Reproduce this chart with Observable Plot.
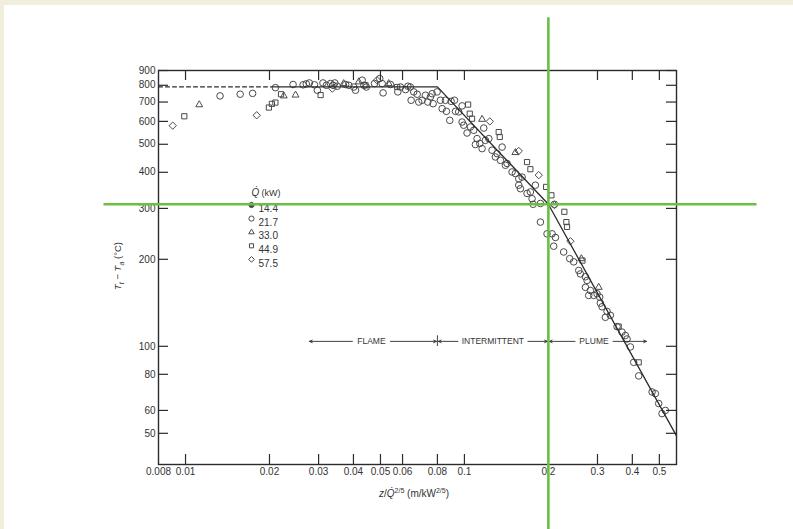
<!DOCTYPE html>
<html><head><meta charset="utf-8">
<script src="https://cdn.jsdelivr.net/npm/d3@7"></script>
<script src="https://cdn.jsdelivr.net/npm/@observablehq/plot@0.6"></script>
<style>
html,body{margin:0;padding:0;background:#fff;}
#wrap{position:relative;width:793px;height:529px;overflow:hidden;background:#fff;}
.edge{position:absolute;background:#f1eedb;}
#wrap svg{position:absolute;left:0;top:0;}
</style></head>
<body><div id="wrap"><div class="edge" style="left:0;top:0;width:793px;height:5px"></div><div class="edge" style="left:0;top:0;width:4px;height:529px"></div></div>
<script>
// ---- axes ----
const xTicks = [0.008, 0.01, 0.02, 0.03, 0.04, 0.05, 0.06, 0.08, 0.1, 0.2, 0.3, 0.4, 0.5];
const xTickLabels = ["0.008", "0.01", "0.02", "0.03", "0.04", "0.05", "0.06", "0.08", "0.1", "0.2", "0.3", "0.4", "0.5"];
const yTicks = [50, 60, 80, 100, 200, 300, 400, 500, 600, 700, 800, 900];
const yTickLabels = ["50", "60", "80", "100", "200", "300", "400", "500", "600", "700", "800", "900"];

// ---- data: [z/Q^(2/5), Tc - Ta] ----
const q144 = [];
const q217 = [
  [0.0133,735],[0.0157,745],[0.0174,750],[0.021,785],[0.0243,805],[0.0264,803],[0.0271,809],[0.0278,815],[0.029,803],[0.0297,769],
  [0.0311,815],[0.032,800],[0.0331,811],[0.0338,800],[0.0343,815],[0.035,794],[0.0375,805],[0.0385,800],[0.0401,789],[0.0407,769],
  [0.043,833],[0.0436,800],[0.0445,789],[0.0476,811],[0.0497,844],[0.0507,811],[0.0511,753],[0.0543,805],[0.0577,759],[0.059,789],
  [0.0615,773],[0.0627,794],[0.064,789],[0.0644,710],[0.0658,759],[0.0677,745],[0.0686,700],[0.0705,710],[0.0725,739],[0.0739,700],
  [0.0755,729],[0.0766,748],[0.0798,759],[0.0772,691],[0.082,710],[0.0855,710],[0.0896,704],[0.0921,710],[0.0832,664],[0.0862,650],
  [0.0886,605],[0.0929,650],[0.0954,647],[0.0981,679],[0.0981,597],[0.0994,582],[0.1022,547],[0.1051,574],[0.108,559],[0.111,523],
  [0.1095,499],[0.1135,503],[0.1157,483],[0.1173,569],[0.1189,516],[0.1223,523],[0.1256,477],[0.1291,452],[0.1309,464],[0.1346,440],
  [0.1365,489],[0.1403,423],[0.1422,429],[0.1482,401],[0.1523,396],[0.1566,380],[0.1566,361],[0.1588,351],[0.161,385],[0.1677,338],
  [0.1724,342],[0.1797,361],[0.1748,324],[0.1873,312],[0.1763,310],[0.2102,310],[0.1873,269],[0.1978,245],[0.2062,245],[0.212,238],
  [0.209,222],[0.2269,212],[0.2385,201],[0.2465,196],[0.257,183],[0.2605,178],[0.2715,174],[0.2753,169],[0.2715,160],[0.2829,156],
  [0.279,150],[0.2908,150],[0.2989,152],[0.3055,148],[0.3072,141],[0.3115,137],[0.3202,126],[0.3247,132],[0.3337,128],[0.3526,117],
  [0.3673,112],[0.3776,109],[0.3829,106],[0.3936,99.5],[0.4045,88],[0.4216,79],[0.4709,69.5],[0.4837,68.6],[0.4972,63.4],[0.5111,58.5],
  [0.5254,60]
];
const q330 = [[0.0112,685],[0.0225,735],[0.0248,740],[0.0369,811],[0.0418,822],[0.0535,811],[0.1157,610],[0.1523,468],[0.2626,201],[0.303,160]];
const q449 = [[0.0099,625],[0.0199,670],[0.0204,690],[0.021,697],[0.022,745],[0.0305,740],[0.0442,800],[0.0574,789],[0.1031,686],[0.1045,638],
  [0.1065,613],[0.1327,551],[0.1339,530],[0.1677,434],[0.1724,410],[0.1963,356],[0.2051,333],[0.2282,292],[0.232,269],[0.2333,259],
  [0.265,198],[0.3573,117],[0.4216,88]];
const q575 = [[0.009,580],[0.018,630],[0.0336,779],[0.0486,833],[0.1233,600],[0.1566,474],[0.1847,391],[0.2102,308],[0.2399,231]];

const seriesLabels = ["14.4", "21.7", "33.0", "44.9", "57.5"];
const seriesSymbols = ["circle", "circle", "triangle2", "square2", "diamond2"];
const seriesData = [q144, q217, q330, q449, q575];

// correlation lines
const flameDashed = [[0.008, 790], [0.021, 790]];
const correlation = [[0.021, 790], [0.08, 790], [0.2, 310], [0.576, 49]];

// regions
const regionLabels = ["FLAME", "INTERMITTENT", "PLUME"];
const regionStart = [0.0276, 0.08, 0.2];
const regionEnd = [0.08, 0.2, 0.453];
const regionLabelX = [0.0464, 0.1265, 0.2915];
const regionY = 104;
const regionBounds = [0.08, 0.2];

// green crosshair
const crossX = 0.2, crossY = 310;
const crossXExtent = [0.0051, 1.12];
const crossYExtent = [23, 1370];

const INK = "#2b2b2b", TEXT = "#333", GREEN = "#6cbf45";
const FONT = "'Liberation Sans', Arial, sans-serif";
const mL = 158, mR = 117, mT = 70, mB = 65, W = 793, H = 529;
const fW = W - mL - mR, fH = H - mT - mB;

const marks = [];
// scatter
seriesData.forEach((s, i) => {
  marks.push(Plot.dot(s, {x: d => d[0], y: d => d[1], symbol: seriesSymbols[i], r: 3.3, stroke: "#4a4a4a", strokeWidth: 1, fill: "none"}));
});
// lines
marks.push(Plot.line(flameDashed, {x: d => d[0], y: d => d[1], stroke: INK, strokeWidth: 1.2, strokeDasharray: "4,3"}));
marks.push(Plot.line(correlation, {x: d => d[0], y: d => d[1], stroke: INK, strokeWidth: 1.3}));
// frame + ticks
marks.push(Plot.frame({stroke: INK, strokeWidth: 1.4}));
marks.push(Plot.tickX(xTicks.slice(1), {x: d => d, insetTop: fH - 10, stroke: INK, strokeWidth: 1.2}));
marks.push(Plot.tickX(xTicks.slice(1), {x: d => d, insetBottom: fH - 10, stroke: INK, strokeWidth: 1.2}));
marks.push(Plot.tickY(yTicks, {y: d => d, insetRight: fW - 10, stroke: INK, strokeWidth: 1.2}));
marks.push(Plot.tickY(yTicks, {y: d => d, insetLeft: fW - 10, stroke: INK, strokeWidth: 1.2}));
// tick labels
marks.push(Plot.text(xTicks, {x: d => d, frameAnchor: "bottom", dy: 10, text: (d, i) => xTickLabels[i], fontSize: 10, fill: TEXT}));
marks.push(Plot.text(yTicks, {y: d => d, frameAnchor: "left", dx: -3, textAnchor: "end", text: (d, i) => yTickLabels[i], fontSize: 10, fill: TEXT}));
// regions
const halfW = [19, 35, 19];
regionLabels.forEach((lab, i) => {
  const row = [{xs: regionStart[i], xe: regionEnd[i], xc: regionLabelX[i], y: regionY}];
  marks.push(Plot.arrow(row, {x1: "xc", y1: "y", x2: "xs", y2: "y", insetStart: halfW[i], insetEnd: 1, headLength: 5, headAngle: 50, stroke: INK, strokeWidth: 0.9}));
  marks.push(Plot.arrow(row, {x1: "xc", y1: "y", x2: "xe", y2: "y", insetStart: halfW[i], insetEnd: 1, headLength: 5, headAngle: 50, stroke: INK, strokeWidth: 0.9}));
  marks.push(Plot.text(row, {x: "xc", y: "y", text: () => lab, fontSize: 8.5, fill: TEXT}));
});
marks.push(Plot.ruleX(regionBounds, {x: d => d, y1: regionY * 0.96, y2: regionY * 1.045, stroke: INK, strokeWidth: 0.9}));
// legend
marks.push(Plot.text(["Q\u0307"], {frameAnchor: "top-left", dx: 93, dy: 118, text: d => d, fontSize: 10, fontStyle: "italic", fill: TEXT}));
marks.push(Plot.text(["(kW)"], {frameAnchor: "top-left", dx: 103, dy: 119, text: d => d, fontSize: 9, textAnchor: "start", fill: TEXT}));
seriesLabels.forEach((lab, i) => {
  const dy = 134.5 + i * 13.6;
  marks.push(Plot.dot([lab], {frameAnchor: "top-left", dx: 93, dy, symbol: seriesSymbols[i], r: 2.6, stroke: "#4a4a4a", strokeWidth: 1, fill: i === 0 ? "#4a4a4a" : "none"}));
  marks.push(Plot.text([lab], {frameAnchor: "top-left", dx: 100, dy, text: d => d, fontSize: 10, textAnchor: "start", fill: TEXT}));
});
// crosshair
marks.push(Plot.ruleX([crossX], {x: d => d, y1: crossYExtent[0], y2: crossYExtent[1], stroke: GREEN, strokeWidth: 2.6}));
marks.push(Plot.ruleY([crossY], {y: d => d, x1: crossXExtent[0], x2: crossXExtent[1], stroke: GREEN, strokeWidth: 2.6}));

const plot = Plot.plot({
  width: W, height: H,
  marginLeft: mL, marginRight: mR, marginTop: mT, marginBottom: mB,
  style: {fontFamily: FONT, fontSize: "10px", color: TEXT, background: "transparent", overflow: "visible"},
  x: {type: "log", domain: [0.008, 0.576], axis: null},
  y: {type: "log", domain: [39, 900], axis: null},
  marks
});

const svg = d3.select(plot);
// x title
const xt = svg.append("text").attr("x", 414).attr("y", 497).attr("text-anchor", "middle")
  .attr("font-size", 10).attr("fill", TEXT).attr("font-family", FONT);
xt.append("tspan").attr("font-style", "italic").text("z");
xt.append("tspan").text("/");
xt.append("tspan").attr("font-style", "italic").text("Q\u0307");
xt.append("tspan").attr("font-size", 7).attr("dy", -4).text("2/5");
xt.append("tspan").attr("dy", 4).text(" (m/kW");
xt.append("tspan").attr("font-size", 7).attr("dy", -4).text("2/5");
xt.append("tspan").attr("dy", 4).text(")");
// y title
const yt = svg.append("text").attr("transform", "translate(121,266) rotate(-90)").attr("text-anchor", "middle")
  .attr("font-size", 9.5).attr("fill", TEXT).attr("font-family", FONT);
yt.append("tspan").attr("font-style", "italic").text("T");
yt.append("tspan").attr("font-size", 7).attr("dy", 2.5).attr("font-style", "italic").text("t");
yt.append("tspan").attr("dy", -2.5).text(" \u2212 ");
yt.append("tspan").attr("font-style", "italic").text("T");
yt.append("tspan").attr("font-size", 7).attr("dy", 2.5).attr("font-style", "italic").text("a");
yt.append("tspan").attr("dy", -2.5).text(" (\u00b0C)");

document.getElementById("wrap").appendChild(plot);
</script>
</body></html>
